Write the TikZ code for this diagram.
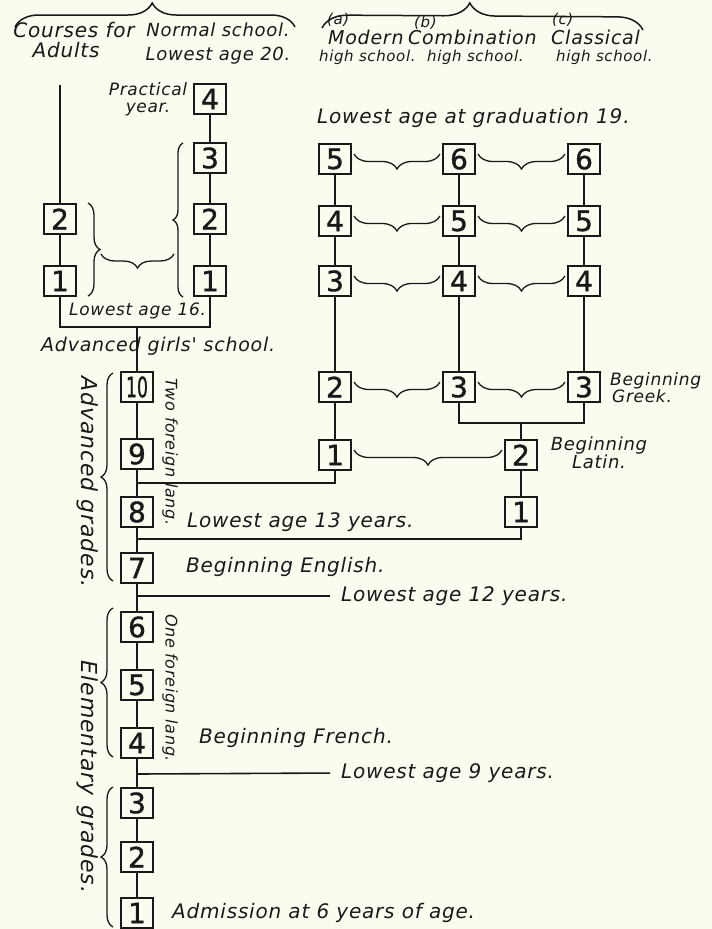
\documentclass[tikz,border=0pt]{standalone}
\usepackage{graphicx}
\usepackage{fontspec}
\setmainfont{DejaVu Sans}
\newfontfamily\hand{DejaVu Sans}[LetterSpace=4]
\newfontfamily\digitfont{DejaVu Sans}[FakeBold=1.2]
\usetikzlibrary{decorations.pathreplacing,calc}
\definecolor{paper}{RGB}{251,251,240}
\definecolor{ink}{RGB}{25,25,25}
\tikzset{
  box/.style={draw=ink, line width=2.1pt, minimum width=32pt, minimum height=30pt,
    inner sep=0pt, text=ink, font=\digitfont\fontsize{28}{28}\selectfont},
  conn/.style={draw=ink, line width=1.6pt},
  brc/.style={draw=ink, line width=1.3pt, decorate, decoration={brace, amplitude=10}},
  rowbrace/.style={brc, decoration={mirror, amplitude=15}},
  lbl/.style={text=ink, inner sep=1pt, font=\hand\itshape\fontsize{#1}{#1}\selectfont},
  lbl/.default=20
}
\begin{document}
\begin{tikzpicture}[x=1pt,y=-1pt]
\fill[paper] (0,0) rectangle (712,929);
\useasboundingbox (0,0) rectangle (712,929);

% ---------- main column (grades 1-10)
\node[box] (g10) at (137,387) {\scalebox{0.62}[1]{10}};
\node[box] (g9) at (137,454) {9};
\node[box] (g8) at (137,512) {8};
\node[box] (g7) at (137,568) {7};
\node[box] (g6) at (137,627) {6};
\node[box] (g5) at (137,685) {5};
\node[box] (g4) at (137,743) {4};
\node[box] (g3) at (137,803) {3};
\node[box] (g2) at (137,857) {2};
\node[box] (g1) at (137,913) {1};

% ---------- left upper (adults, normal school)
\node[box] (A2) at (60,219) {2};
\node[box] (A1) at (60,281) {1};
\node[box] (N4) at (210,99) {4};
\node[box] (N3) at (210,158) {3};
\node[box] (N2) at (210,219) {2};
\node[box] (N1) at (210,281) {1};

% ---------- high school grid
\node[box] (M5) at (335,159) {5};
\node[box] (M4) at (335,221) {4};
\node[box] (M3) at (335,281) {3};
\node[box] (M2) at (335,387) {2};
\node[box] (M1) at (335,455) {1};
\node[box] (C6) at (459,159) {6};
\node[box] (C5) at (459,221) {5};
\node[box] (C4) at (459,281) {4};
\node[box] (C3) at (459,387) {3};
\node[box] (K6) at (584,159) {6};
\node[box] (K5) at (584,221) {5};
\node[box] (K4) at (584,281) {4};
\node[box] (K3) at (584,387) {3};
\node[box] (L2) at (521,455) {2};
\node[box] (L1) at (521,512) {1};

% ---------- coordinates
\coordinate (atop) at (60,85);
\coordinate (j16) at (137,327);
\coordinate (jm) at (137,483);
\coordinate (je) at (137,539);
\coordinate (jg) at (521,423);
\coordinate (j12) at (137,596);
\coordinate (j9) at (137,774);

% ---------- texts
\node[lbl] (tcourses) at (74,30) {Courses for};
\node[lbl] (tadults) at (66,50) {Adults};
\node[lbl=18] (tnormal) at (218,30) {Normal school.};
\node[lbl=18] (tnorm20) at (218,56) {Lowest age 20.};
\node[lbl=15, anchor=west] (ta) at (326,20) {(a)};
\node[lbl=15, anchor=west] (tb) at (413,23) {(b)};
\node[lbl=15, anchor=west] (tc) at (551,20) {(c)};
\node[lbl=19, anchor=west] (tmod) at (327,37) {Modern};
\node[lbl=19, anchor=west] (tcomb) at (407,37) {Combination};
\node[lbl=19, anchor=west] (tclas) at (550,37) {Classical};
\node[lbl=15, anchor=west] (hs1) at (318,57) {high school.};
\node[lbl=15, anchor=west] (hs2) at (426,57) {high school.};
\node[lbl=15, anchor=west] (hs3) at (555,57) {high school.};
\node[lbl=17, align=center] (tprac) at (148,99) {Practical\\year.};
\node[lbl, anchor=west] (tgrad) at (316,118) {Lowest age at graduation 19.};
\node[lbl=17, anchor=west] (t16) at (68,311) {Lowest age 16.};
\node[lbl=19, anchor=west] (tgirls) at (40,346) {Advanced girls' school.};
\node[lbl=17, align=left, anchor=west] (tgreek) at (609,388) {Beginning\\\hspace*{2pt}Greek.};
\node[lbl=18, align=center] (tlatin) at (599,453) {Beginning\\Latin.};
\node[lbl, anchor=west] (t13) at (186,522) {Lowest age 13 years.};
\node[lbl, anchor=west] (teng) at (185,567) {Beginning English.};
\node[lbl, anchor=west] (t12) at (340,596) {Lowest age 12 years.};
\node[lbl, anchor=west] (tfr) at (198,738) {Beginning French.};
\node[lbl, anchor=west] (t9) at (340,773) {Lowest age 9 years.};
\node[lbl, anchor=west] (tadm) at (171,913) {Admission at 6 years of age.};
\node[lbl=16, rotate=-90] (ttwo) at (170,452) {Two foreign lang.};
\node[lbl=16, rotate=-90] (tone) at (170,688) {One foreign lang.};
\node[lbl=22, rotate=-90] (tadv) at (88,482) {Advanced grades.};
\node[lbl=22, rotate=-90] (telem) at (88,777) {Elementary\hspace{10pt}grades.};

% ---------- connectors
\draw[conn] (atop) -- (A2) -- (A1);
\draw[conn] (A1) |- (j16) -| (N1);
\draw[conn] (N4) -- (N3) -- (N2) -- (N1);
\draw[conn] (j16) -- (g10) -- (g9) -- (g8) -- (g7) -- (g6) -- (g5) -- (g4) -- (g3) -- (g2) -- (g1);
\draw[conn] (M5) -- (M4) -- (M3) -- (M2) -- (M1);
\draw[conn] (M1) |- (jm);
\draw[conn] (C6) -- (C5) -- (C4) -- (C3);
\draw[conn] (K6) -- (K5) -- (K4) -- (K3);
\draw[conn] (C3) |- (jg) -| (K3);
\draw[conn] (jg) -- (L2) -- (L1);
\draw[conn] (L1) |- (je);
\draw[conn, shorten >=10pt] (j12) -- (t12.west);
\draw[conn, shorten >=10pt] (j9) -- (t9.west);

% ---------- braces between schools
\foreach \a/\b in {M5/C6, C6/K6, M4/C5, C5/K5, M3/C4, C4/K4, M2/C3, C3/K3, M1/L2}{
  \draw[rowbrace] ([xshift=2pt,yshift=5pt]\a.east) -- ([xshift=-2pt,yshift=5pt]\b.west);
}

% ---------- upper-left braces
\draw[brc, decoration={amplitude=12}] (88,203) -- (88,296);
\draw[brc, decoration={mirror, amplitude=14}] (101,254) -- (174,254);
\draw[brc, decoration={mirror, amplitude=10}] (183,143) -- (183,297);

% ---------- grade braces
\draw[brc, decoration={mirror, amplitude=12}] (113,373) -- (113,581);
\draw[brc, decoration={mirror, amplitude=12}] (113,608) -- (113,757);
\draw[brc, decoration={mirror, amplitude=12}] (113,787) -- (113,927);

% ---------- top braces
\draw[brc, line width=1.5pt, decoration={amplitude=24, aspect=0.49}] (15,27) -- (295,27);
\draw[brc, line width=1.5pt, decoration={amplitude=26, aspect=0.46}] (322,28) -- (643,30);
\end{tikzpicture}
\end{document}
